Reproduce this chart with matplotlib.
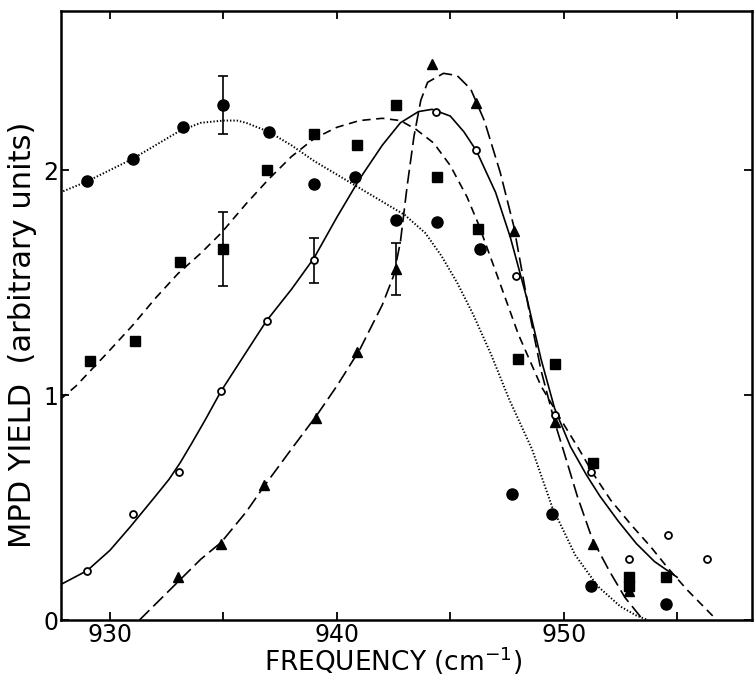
import matplotlib
matplotlib.use('Agg')
import matplotlib.pyplot as plt

plt.rcParams['font.family'] = ['DejaVu Sans']
plt.rcParams['lines.scale_dashes'] = False

# Filled circles (dotted fit)
circ_x = [929.0, 931.0, 933.2, 935.0, 937.0, 939.0, 940.8, 942.6, 944.4, 946.3, 947.7, 949.5, 951.2, 954.5]
circ_y = [1.95, 2.05, 2.19, 2.29, 2.17, 1.94, 1.97, 1.78, 1.77, 1.65, 0.56, 0.47, 0.15, 0.07]
circ_err_x = [935.0]
circ_err_y = [2.29]
circ_err = [0.13]

# Filled squares (short-dash fit)
sq_x = [929.1, 931.1, 933.1, 935.0, 936.9, 939.0, 940.9, 942.6, 944.4, 946.2, 948.0, 949.6, 951.3, 952.9, 952.9, 954.5]
sq_y = [1.15, 1.24, 1.59, 1.65, 2.00, 2.16, 2.11, 2.29, 1.97, 1.74, 1.16, 1.14, 0.70, 0.19, 0.15, 0.19]
sq_err_x = [935.0]
sq_err_y = [1.65]
sq_err = [0.165]

# Open circles (solid fit)
oc_x = [929.0, 931.0, 933.05, 934.9, 936.9, 939.0, 944.35, 946.15, 947.9, 949.6, 951.2, 952.9, 954.6, 956.3]
oc_y = [0.22, 0.47, 0.66, 1.02, 1.33, 1.60, 2.26, 2.09, 1.53, 0.91, 0.66, 0.27, 0.38, 0.27]
oc_err_x = [939.0]
oc_err_y = [1.60]
oc_err = [0.10]

# Filled triangles (long-dash fit)
tr_x = [933.0, 934.9, 936.8, 939.1, 940.9, 942.6, 944.2, 946.15, 947.8, 949.6, 951.3, 952.9]
tr_y = [0.19, 0.34, 0.60, 0.90, 1.19, 1.56, 2.47, 2.30, 1.73, 0.88, 0.34, 0.13]
tr_err_x = [942.6]
tr_err_y = [1.56]
tr_err = [0.115]

# Fitted curves
dot_x = [927.8, 929, 930, 931, 932, 933, 934, 935, 935.6, 936, 937, 938, 939, 940, 941, 942, 943, 943.9,
         944.6, 945.3, 946, 946.8, 947.6, 948.6, 949.5, 950.5, 951.5, 952.5, 953.2, 953.7]
dot_y = [1.90, 1.95, 2.00, 2.05, 2.11, 2.17, 2.21, 2.22, 2.22, 2.21, 2.17, 2.11, 2.04, 1.98, 1.92, 1.86, 1.80, 1.72,
         1.62, 1.50, 1.36, 1.18, 0.98, 0.76, 0.50, 0.29, 0.15, 0.06, 0.02, 0.0]

sdash_x = [927.8, 928.5, 929.86, 931, 932, 933, 934, 934.9, 936, 937, 938, 939, 940, 941, 942, 942.8,
           943.5, 944.27, 945, 945.74, 946.24, 947, 948, 949, 950, 950.67, 951.3, 952.07, 953, 953.83, 954.6, 955.45, 956.6]
sdash_y = [0.98, 1.04, 1.185, 1.31, 1.43, 1.54, 1.63, 1.72, 1.85, 1.96, 2.06, 2.14, 2.19, 2.22, 2.23, 2.22,
           2.18, 2.12, 2.02, 1.88, 1.76, 1.55, 1.27, 1.04, 0.87, 0.76, 0.65, 0.533, 0.42, 0.326, 0.23, 0.133, 0.015]

solid_x = [927.8, 929, 930, 930.9, 932, 932.6, 933.1, 933.6, 934.2, 934.9, 936.0, 936.9, 938, 939, 940, 941, 942, 942.8,
           943.6, 944.2, 945, 945.6, 946.15, 947, 947.65, 948.4, 949.0, 949.6, 950.3, 951, 951.6, 952.4, 953.2, 954, 955]
solid_y = [0.156, 0.22, 0.31, 0.415, 0.55, 0.625, 0.70, 0.785, 0.89, 1.018, 1.19, 1.33, 1.47, 1.61, 1.79, 1.96, 2.11, 2.21,
           2.26, 2.27, 2.24, 2.17, 2.086, 1.90, 1.70, 1.42, 1.16, 0.94, 0.77, 0.645, 0.55, 0.44, 0.34, 0.26, 0.19]

ldash_x = [931.3, 932, 933, 934, 934.9, 936, 936.81, 938, 939.1, 940, 941, 942, 942.5, 942.8, 943.1, 943.4, 943.7,
           944, 944.7, 945.3, 945.9, 946.5, 947.2, 947.8, 948.5, 949, 949.6, 950, 950.6, 951.26, 952, 952.7, 953.5]
ldash_y = [0.0, 0.07, 0.17, 0.27, 0.345, 0.48, 0.597, 0.76, 0.908, 1.04, 1.20, 1.40, 1.53, 1.68, 1.93, 2.15, 2.31,
           2.39, 2.43, 2.42, 2.36, 2.22, 1.99, 1.75, 1.36, 1.11, 0.88, 0.75, 0.55, 0.36, 0.22, 0.10, 0.0]

fig = plt.figure(figsize=(7.54, 6.76), dpi=100)
ax = fig.add_axes([61 / 754, 56 / 676, 691 / 754, 609 / 676])

lw = 1.2
ax.plot(dot_x, dot_y, color='black', lw=1.4, dashes=(1.0, 1.4))
ax.plot(sdash_x, sdash_y, color='black', lw=lw, dashes=(6, 4))
ax.plot(solid_x, solid_y, color='black', lw=lw)
ax.plot(ldash_x, ldash_y, color='black', lw=lw, dashes=(10, 4))

for ex, ey, ee in [(circ_err_x, circ_err_y, circ_err), (sq_err_x, sq_err_y, sq_err),
                   (oc_err_x, oc_err_y, oc_err), (tr_err_x, tr_err_y, tr_err)]:
    ax.errorbar(ex, ey, yerr=ee, fmt='none', ecolor='black', elinewidth=1.2, capsize=3.5, capthick=1.2)

ax.plot(circ_x, circ_y, 'o', color='black', markersize=8, zorder=5)
ax.plot(sq_x, sq_y, 's', color='black', markersize=7.5, zorder=5)
ax.plot(tr_x, tr_y, '^', color='black', markersize=7.5, zorder=5)
ax.plot(oc_x, oc_y, 'o', markerfacecolor='white', markeredgecolor='black', markeredgewidth=1.3,
        markersize=5, zorder=6)

ax.set_xlim(927.84, 958.3)
ax.set_ylim(0, 2.707)
ax.set_xticks([930, 940, 950])
ax.set_xticks([935, 945, 955], minor=True)
ax.set_yticks([0, 1, 2])
ax.tick_params(axis='both', which='both', direction='in', length=6, width=1.3,
               top=True, right=True, labelsize=17, pad=2)

for s in ax.spines.values():
    s.set_linewidth(1.8)

fig.text(393 / 754, 1 - 661 / 676, 'FREQUENCY (cm$^{-1}$)', fontsize=19, ha='center', va='center')
fig.text(23 / 754, 1 - 335 / 676, 'MPD YIELD  (arbitrary units)', fontsize=22, rotation=90,
         ha='center', va='center')

plt.savefig('out.png', dpi=100)
